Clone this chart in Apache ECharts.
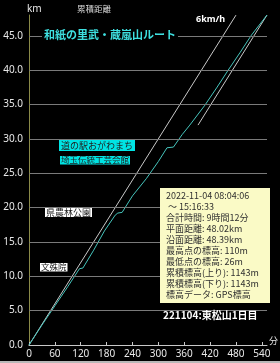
<!DOCTYPE html>
<html><head><meta charset="utf-8">
<script src="https://cdn.jsdelivr.net/npm/echarts@6/dist/echarts.min.js"></script>
<style>html,body{margin:0;padding:0;background:#000;}#c{width:280px;height:363px;}</style>
</head><body><div id="c"></div>
<script>
// ---- data ----
const trackMin = [0, 30, 60, 90, 117, 125, 150, 175, 200, 206, 216, 240, 272, 300, 320, 335, 355, 373, 408, 435, 462, 490, 516, 552];
const trackKm  = [0, 2.9, 5.7, 8.5, 11.1, 11.2, 13.8, 16.6, 18.9, 19.2, 19.3, 21.7, 24.2, 26.7, 28.7, 28.8, 30.6, 32.0, 34.9, 37.4, 40.0, 42.6, 45.1, 48.02];
const pace6Min = [0, 480];
const pace6Km  = [0, 48];
const tail6Min = [392, 552];
const tail6Km  = [32.0, 48.02];
const xTicks = [0, 60, 120, 180, 240, 300, 360, 420, 480, 540];
const yTicks = [0, 5, 10, 15, 20, 25, 30, 35, 40, 45];
const gridKm = [5, 10, 15, 20, 25, 30, 35, 40, 45];
const titleText = "和紙の里武・蔵嵐山ルート";
const infoLines = ["2022-11-04 08:04:06", " ～ 15:16:33", "合計時間: 9時間12分", "平面距離: 48.02km", "沿面距離: 48.39km",
  "最高点の標高: 110m", "最低点の標高: 26m", "累積標高(上り): 1143m", "累積標高(下り): 1143m", "標高データ: GPS標高"];
const footer = "221104:東松山1日目";

const zip = (a, b) => a.map((v, i) => [v, b[i]]);
const F = "'Noto Sans','Noto Sans CJK JP',sans-serif";
const J = "'Noto Sans CJK JP','Noto Sans',sans-serif";

const chart = echarts.init(document.getElementById('c'));
chart.setOption({
  backgroundColor: '#000',
  animation: false,
  grid: { left: 29, right: 13, top: 15, bottom: 18 },
  xAxis: {
    type: 'value', min: 0, max: 552, interval: 60,
    axisLine: { show: true, lineStyle: { color: '#c8c8c8', width: 1 } },
    axisTick: { show: true, inside: true, length: 3, lineStyle: { color: '#c8c8c8' }, customValues: xTicks },
    axisLabel: { color: '#e8e8e8', fontSize: 10, fontFamily: F, margin: 4, customValues: xTicks },
    splitLine: { show: false }
  },
  yAxis: {
    type: 'value', min: 0, max: 48.02, interval: 5,
    axisLine: { show: true, lineStyle: { color: '#8a8a48', width: 1 } },
    axisTick: { show: false },
    axisLabel: { color: '#e8e8e8', fontSize: 10, fontFamily: F, margin: 6, customValues: yTicks,
      formatter: v => v.toFixed(1) },
    splitLine: { show: false }
  },
  series: [
    { type: 'line', data: [], silent: true, z: 1,
      markLine: { silent: true, symbol: 'none', label: { show: false },
        lineStyle: { color: '#7a7a7a', type: 'solid', width: 1 },
        data: gridKm.map(k => ({ yAxis: k })) } },
    { type: 'line', data: zip(pace6Min, pace6Km), showSymbol: false, lineStyle: { color: '#c8c8c8', width: 1 }, z: 3 },
    { type: 'line', data: zip(tail6Min, tail6Km), showSymbol: false, lineStyle: { color: '#c8c8c8', width: 1 }, z: 3 },
    { type: 'line', data: zip(trackMin, trackKm), showSymbol: false, lineStyle: { color: '#46c4bc', width: 1 }, z: 4 }
  ],
  graphic: [
    { type: 'text', left: 27, top: 4, style: { text: 'km', fill: '#e8e8e8', font: '10px ' + F } },
    { type: 'text', left: 77, top: 5, style: { text: '累積距離', fill: '#d8d8d8', font: '8.5px ' + J } },
    { type: 'text', left: 269, top: 336, z: 10, style: { text: '分', fill: '#e8e8e8', font: '9px ' + J } },
    { type: 'text', left: 42, top: 28, z: 10, style: { text: titleText, fill: '#3ee0e0', font: 'bold 11px ' + J,
      backgroundColor: '#000', padding: [1, 2] } },
    { type: 'text', left: 196, top: 15, z: 10, style: { text: '6km/h', fill: '#ffffff', font: 'bold 9px ' + F } },
    { type: 'text', left: 59, top: 140, z: 10, style: { text: '道の駅おがわまち', fill: '#202020', font: '9px ' + J,
      backgroundColor: '#00e4e4', padding: [1, 2] } },
    { type: 'text', left: 60, top: 156, z: 10, style: { text: '埼玉伝統工芸会館', fill: '#202020', font: '8.5px ' + J,
      backgroundColor: '#00e4e4', padding: [0, 1] } },
    { type: 'text', left: 45, top: 208, z: 10, style: { text: '県農林公園', fill: '#202020', font: '9px ' + J,
      backgroundColor: '#ffffff', padding: [0, 1] } },
    { type: 'text', left: 40, top: 263, z: 10, style: { text: '文殊院', fill: '#202020', font: '8.5px ' + J,
      backgroundColor: '#ffffff', padding: [0, 1] } },
    { type: 'rect', left: 160, top: 188, z: 10, shape: { width: 110, height: 115 }, style: { fill: '#fafac6' } },
    { type: 'text', left: 166, top: 190, z: 11, style: { text: infoLines.join('\n'), fill: '#303030',
      font: '9px ' + J, lineHeight: 11 } },
    { type: 'text', left: 163, top: 310, z: 10, style: { text: footer, fill: '#ffffff', font: 'bold 10px ' + J } },
    { type: 'rect', left: 0, top: 361, z: 10, shape: { width: 280, height: 2 }, style: { fill: '#b8b8b8' } }
  ]
});
</script></body></html>
